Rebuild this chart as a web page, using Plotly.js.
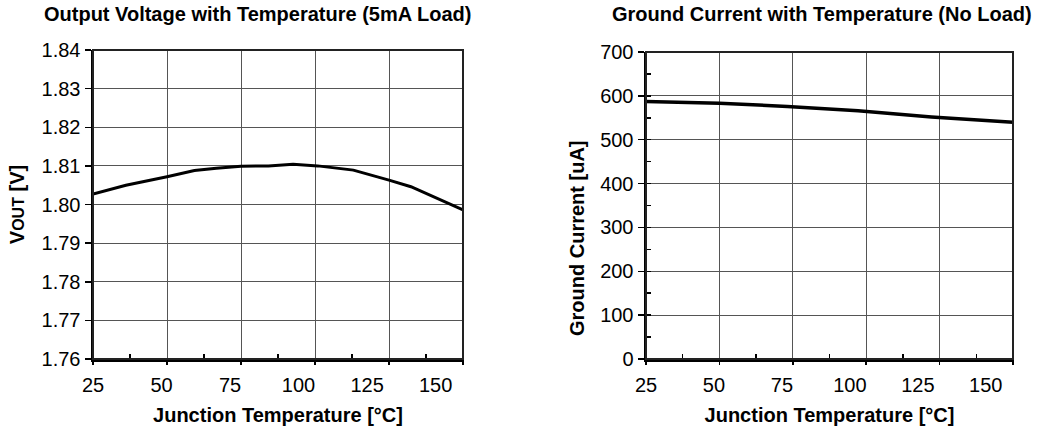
<!DOCTYPE html>
<html>
<head>
<meta charset="utf-8">
<script src="https://cdn.plot.ly/plotly-3.0.1.min.js"></script>
<style>html,body{margin:0;padding:0;background:#fff;}#chart{width:1053px;height:436px;}</style>
</head>
<body>
<div id="chart"></div>
<script>
// ---- data ----
const tempV = [25, 37, 52, 62, 70, 79, 89, 98, 107, 120, 133, 141, 160];
const vout  = [1.8027, 1.8050, 1.8072, 1.8088, 1.8094, 1.8099, 1.8100, 1.8104, 1.8100, 1.8089, 1.8063, 1.8046, 1.7986];
const tempI = [25, 52, 77, 103, 130, 160];
const ignd  = [587, 583, 576, 566, 552, 540];
const xTickLabels = [25, 50, 75, 100, 125, 150];
const xGridVals = [25, 52, 79, 106, 133, 160];
const titleLeft = "Output Voltage with Temperature (5mA Load)";
const titleRight = "Ground Current with Temperature (No Load)";
const xTitle = "Junction Temperature [°C]";
const yTitleLeft = "V<span style='font-size:16px'>OUT</span> [V]";
const yTitleRight = "Ground Current [uA]";

const FONT = "Liberation Sans, Arial, sans-serif";
const traces = [
  {x: tempV, y: vout, xaxis: 'x', yaxis: 'y', type: 'scatter', mode: 'lines',
   line: {color: '#000', width: 3}, hoverinfo: 'skip'},
  {x: tempI, y: ignd, xaxis: 'x2', yaxis: 'y2', type: 'scatter', mode: 'lines',
   line: {color: '#000', width: 3.5}, hoverinfo: 'skip'},
  // empty traces so the overlaid grid axes are created
  {x: [], y: [], xaxis: 'x3', yaxis: 'y', type: 'scatter', mode: 'lines', hoverinfo: 'skip'},
  {x: [], y: [], xaxis: 'x4', yaxis: 'y2', type: 'scatter', mode: 'lines', hoverinfo: 'skip'}
];

function labelAxis(domain, anchor) {
  return {domain: domain, anchor: anchor, range: [25, 160], tickmode: 'array',
    tickvals: xTickLabels, ticktext: xTickLabels.map(String), ticks: '', showgrid: false, zeroline: false,
    showline: true, linewidth: 2.5, linecolor: '#000', ticklabelstandoff: 6,
    tickfont: {size: 20, color: '#000'},
    title: {text: xTitle, font: {size: 20, color: '#000', weight: 'bold'}, standoff: 14}};
}
function gridAxis(over, anchor) {
  return {overlaying: over, anchor: anchor, side: 'bottom', range: [25, 160], tickmode: 'array', tickvals: xGridVals,
    showticklabels: false, ticks: 'outside', ticklen: 5, tickwidth: 1.5, tickcolor: '#000',
    showgrid: true, gridcolor: '#555', gridwidth: 1, zeroline: false, showline: false,
    minor: {tickmode: 'array', tickvals: xGridVals.slice(0, -1).map((v, i) => (v + xGridVals[i + 1]) / 2),
      ticks: 'inside', ticklen: 5, tickwidth: 1.5, tickcolor: '#000', showgrid: false}};
}

const layout = {
  width: 1053, height: 436,
  margin: {l: 93, r: 40, t: 50, b: 77},
  paper_bgcolor: '#fff', plot_bgcolor: '#fff',
  showlegend: false,
  font: {family: FONT, color: '#000'},
  xaxis: labelAxis([0, 370 / 920], 'y'),
  xaxis2: labelAxis([553 / 920, 1], 'y2'),
  xaxis3: gridAxis('x', 'y'),
  xaxis4: gridAxis('x2', 'y2'),
  yaxis: {domain: [0, 1], anchor: 'x', range: [1.76, 1.84], tickmode: 'linear', tick0: 1.76, dtick: 0.01,
    tickformat: '.2f', ticks: 'outside', ticklen: 6, tickwidth: 1.5, tickcolor: '#000',
    showgrid: true, gridcolor: '#555', gridwidth: 1, zeroline: false,
    showline: true, linewidth: 2.5, linecolor: '#000', tickfont: {size: 20, color: '#000'},
    title: {text: yTitleLeft, font: {size: 20, color: '#000', weight: 'bold'}, standoff: 12}},
  yaxis2: {domain: [0, 307 / 309], anchor: 'x2', range: [0, 700], tickmode: 'linear', tick0: 0, dtick: 100,
    ticks: 'outside', ticklen: 6, tickwidth: 1.5, tickcolor: '#000',
    showgrid: true, gridcolor: '#555', gridwidth: 1, zeroline: false,
    showline: true, linewidth: 2.5, linecolor: '#000', tickfont: {size: 20, color: '#000'},
    minor: {dtick: 50, tick0: 0, ticks: 'inside', ticklen: 5, tickwidth: 1.5, tickcolor: '#000', showgrid: false},
    title: {text: '', font: {size: 20}}},
  shapes: [
    {type: 'rect', xref: 'x domain', yref: 'y domain', x0: 0, x1: 1, y0: 0, y1: 1,
     line: {color: '#222', width: 2}, fillcolor: 'rgba(0,0,0,0)'},
    {type: 'rect', xref: 'x2 domain', yref: 'y2 domain', x0: 0, x1: 1, y0: 0, y1: 1,
     line: {color: '#222', width: 2}, fillcolor: 'rgba(0,0,0,0)'}
  ],
  annotations: [
    {text: titleLeft, xref: 'paper', yref: 'paper', x: 0.1788, y: 1.1165, xanchor: 'center', yanchor: 'middle',
     showarrow: false, font: {size: 20, color: '#000', weight: 'bold'}},
    {text: titleRight, xref: 'paper', yref: 'paper', x: 0.7924, y: 1.1165, xanchor: 'center', yanchor: 'middle',
     showarrow: false, font: {size: 20, color: '#000', weight: 'bold'}},
    {text: yTitleRight, xref: 'paper', yref: 'paper', x: (577 - 93) / 920, y: (359 - 238) / 309,
     xanchor: 'center', yanchor: 'middle', textangle: -90,
     showarrow: false, font: {size: 20, color: '#000', weight: 'bold'}}
  ]
};

Plotly.newPlot('chart', traces, layout, {staticPlot: true, displayModeBar: false});
</script>
</body>
</html>
